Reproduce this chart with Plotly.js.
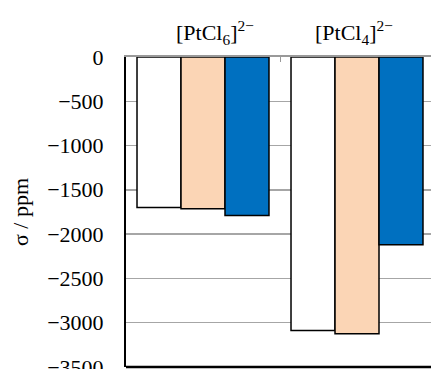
<!DOCTYPE html>
<html>
<head>
<meta charset="utf-8">
<script src="https://cdn.plot.ly/plotly-3.0.1.min.js"></script>
<style>html,body{margin:0;padding:0;background:#fff;}#chart{width:431px;height:369px;}</style>
</head>
<body>
<div id="chart"></div>
<script>
var categories = ['[PtCl<sub>6</sub>]<sup>2−</sup>', '[PtCl<sub>4</sub>]<sup>2−</sup>'];
var seriesA = [-1700, -3090];
var seriesB = [-1715, -3125];
var seriesC = [-1790, -2120];
var yTickVals = [0, -500, -1000, -1500, -2000, -2500, -3000, -3500];
var yTickText = ['0', '−500', '−1000', '−1500', '−2000', '−2500', '−3000', '−3500'];

var xIdx = [0, 1];
var line = {color: '#000', width: 1.5};
var traces = [
  {type: 'bar', x: xIdx, y: seriesA, marker: {color: '#ffffff', line: line}, hoverinfo: 'none'},
  {type: 'bar', x: xIdx, y: seriesB, marker: {color: '#fbd5b5', line: line}, hoverinfo: 'none'},
  {type: 'bar', x: xIdx, y: seriesC, marker: {color: '#0070c0', line: line}, hoverinfo: 'none'}
];

var font = {family: 'Liberation Serif, Times New Roman, serif', size: 22, color: '#000'};

var layout = {
  width: 431, height: 369,
  margin: {l: 126, r: 0, t: 57, b: 2},
  paper_bgcolor: '#fff', plot_bgcolor: '#fff',
  showlegend: false,
  font: font,
  barmode: 'group',
  bargap: 0.143,
  bargroupgap: 0,
  xaxis: {
    type: 'linear',
    range: [-0.5, 1.4805],
    side: 'top',
    showgrid: false,
    zeroline: false,
    showline: true,
    linecolor: '#999',
    linewidth: 2,
    tickvals: [-0.5, 0.5, 1.5],
    ticktext: ['', '', ''],
    ticks: 'inside',
    ticklen: 5,
    tickwidth: 1,
    tickcolor: '#999',
    fixedrange: true
  },
  yaxis: {
    range: [-3502, 0],
    tickvals: yTickVals,
    ticktext: yTickText,
    showgrid: true,
    gridcolor: '#a6a6a6',
    gridwidth: 1.5,
    zeroline: false,
    showline: true,
    linecolor: '#000',
    linewidth: 2,
    ticks: '',
    ticklabelstandoff: 16,
    ticklabeloverflow: 'allow',
    tickfont: font,
    title: {text: 'σ / ppm', font: font, standoff: 12},
    fixedrange: true
  },
  shapes: [
    {type: 'line', xref: 'paper', yref: 'paper', x0: 0, x1: 1, y0: 0, y1: 0, line: {color: '#000', width: 2.5}}
  ],
  annotations: [
    {x: xIdx[0], y: 1, xref: 'x', yref: 'paper', text: categories[0], showarrow: false, xanchor: 'center', yanchor: 'middle', xshift: 12, yshift: 25, font: font},
    {x: xIdx[1], y: 1, xref: 'x', yref: 'paper', text: categories[1], showarrow: false, xanchor: 'center', yanchor: 'middle', xshift: -3, yshift: 25, font: font}
  ]
};

Plotly.newPlot('chart', traces, layout, {staticPlot: true, displayModeBar: false});
</script>
</body>
</html>
